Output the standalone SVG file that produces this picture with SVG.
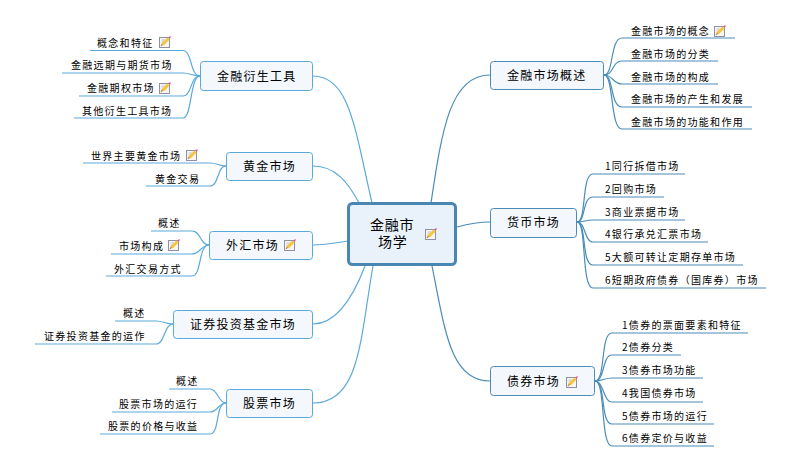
<svg xmlns="http://www.w3.org/2000/svg" width="800" height="467" viewBox="0 0 800 467">
<style>
text{font-family:"Noto Sans CJK SC","Liberation Sans",sans-serif;fill:#000}
.leaf{font-size:10px;letter-spacing:1.3px}
.lab{font-size:12px;letter-spacing:1.25px}
.ctr{font-size:14px;letter-spacing:.7px}
.l{fill:none;stroke:#5ba9dc;stroke-width:1.2}
.r{fill:none;stroke:#4a8cb8;stroke-width:1.2}
.nl{fill:#f4f8fd;stroke:#5ba9dc;stroke-width:1}
.nr{fill:#f4f8fd;stroke:#4a8cb8;stroke-width:1}
</style>
<defs>
<g id="note">
<rect x=".5" y="1.500" width="10" height="10" fill="#f7f6f0" stroke="#8f90a8"/>
<path d="M2.500 4H6M2.500 6H5M2.500 8H4" stroke="#c4c4cc" stroke-width="1" fill="none"/>
<path d="M3.500 8.500L9.500 2.500" stroke="#f5c53c" stroke-width="3" fill="none"/>
<path d="M2 10L3.500 8" stroke="#b5843a" stroke-width="1.200" fill="none"/>
<path d="M9.800 2.200L11.500 .5" stroke="#e8558e" stroke-width="1.500" fill="none"/>
</g>
</defs>
<g id="connectors">
<g class="l">
<path d="M313 76C350 76 355 130 372 203"/>
<path d="M313 166C335 166 348 182 359 203"/>
<path d="M313 245C325 245 335 243 348 241"/>
<path d="M313 324C335 324 352 300 365 266"/>
<path d="M313 403C360 403 360 340 373 266"/>
<path d="M90 50.500H183C192 50.500 190 76 200 76"/>
<path d="M62 73H183C190 73 193 76 200 76"/>
<path d="M79 96H183C192 96 190 76 200 76"/>
<path d="M74 118H183C192 118 190 76 200 76"/>
<path d="M83 163H210C216 163 220 166 226 166"/>
<path d="M146 186H210C219 186 217 166 226 166"/>
<path d="M151 231H192C201 231 200 245 209 245"/>
<path d="M111 254H192C200 254 201 245 209 245"/>
<path d="M106 276H192C202 276 198 245 209 245"/>
<path d="M115 321H156C163 321 166 324 173 324"/>
<path d="M35 344H156C165 344 164 324 173 324"/>
<path d="M169 389H210C218 389 218 403 226 403"/>
<path d="M112 412H210C218 412 218 403 226 403"/>
<path d="M100 434H210C220 434 215 403 226 403"/>
</g>
<g class="r">
<path d="M490 75C450 75 442 130 431 203"/>
<path d="M490 222C478 222 468 224 457 227"/>
<path d="M490 381C450 381 445 330 432 266"/>
<path d="M735 38H622C610 38 614 75 604 75"/>
<path d="M718 61H622C612 61 614 75 604 75"/>
<path d="M718 84H622C613 84 613 75 604 75"/>
<path d="M752 107H622C610 107 614 75 604 75"/>
<path d="M752 129H622C610 129 614 75 604 75"/>
<path d="M685 174H593C581 174 587 222 577 222"/>
<path d="M664 197H593C582 197 586 222 577 222"/>
<path d="M685 220H593C586 220 584 222 577 222"/>
<path d="M708 242H593C584 242 586 222 577 222"/>
<path d="M743 265H593C581 265 587 222 577 222"/>
<path d="M766 288H593C581 288 587 222 577 222"/>
<path d="M748 333H612C600 333 606 381 595 381"/>
<path d="M681 355H612C602 355 605 381 595 381"/>
<path d="M703 378H612C605 378 602 381 595 381"/>
<path d="M703 402H612C603 402 604 381 595 381"/>
<path d="M714 424H612C600 424 606 381 595 381"/>
<path d="M714 446H612C600 446 606 381 595 381"/>
</g>
</g>
<g id="center">
<rect x="348.500" y="203.500" width="107" height="61" rx="4" fill="#e9f1fb" stroke="#4a86b2" stroke-width="3"/>
<text class="ctr"><tspan x="370" y="230">金融市</tspan><tspan x="378" y="246.500">场学</tspan></text>
<use href="#note" x="425" y="228"/>
</g>
<g id="n-yansheng">
<rect class="nl" x="200.500" y="61.500" width="112" height="29" rx="3"/>
<text class="lab" x="217" y="81">金融衍生工具</text>
<text class="leaf" x="97" y="47">概念和特征</text><use href="#note" x="159" y="36"/>
<text class="leaf" x="71" y="69">金融远期与期货市场</text>
<text class="leaf" x="87" y="92">金融期权市场</text><use href="#note" x="159" y="82"/>
<text class="leaf" x="82" y="115">其他衍生工具市场</text>
</g>
<g id="n-huangjin">
<rect class="nl" x="226.500" y="152.500" width="86" height="28" rx="3"/>
<text class="lab" x="243" y="171">黄金市场</text>
<text class="leaf" x="91" y="160">世界主要黄金市场</text><use href="#note" x="186" y="149"/>
<text class="leaf" x="155" y="183">黄金交易</text>
</g>
<g id="n-waihui">
<rect class="nl" x="209.500" y="231.500" width="103" height="28" rx="3"/>
<text class="lab" x="226" y="250">外汇市场</text><use href="#note" x="284" y="239"/>
<text class="leaf" x="158" y="227">概述</text>
<text class="leaf" x="119" y="250">市场构成</text><use href="#note" x="168" y="239"/>
<text class="leaf" x="114" y="273">外汇交易方式</text>
</g>
<g id="n-zhengquan">
<rect class="nl" x="173.500" y="310.500" width="139" height="28" rx="3"/>
<text class="lab" x="190" y="329">证券投资基金市场</text>
<text class="leaf" x="123" y="317">概述</text>
<text class="leaf" x="44" y="340">证券投资基金的运作</text>
</g>
<g id="n-gupiao">
<rect class="nl" x="226.500" y="389.500" width="86" height="28" rx="3"/>
<text class="lab" x="243" y="408">股票市场</text>
<text class="leaf" x="176" y="385">概述</text>
<text class="leaf" x="119" y="408">股票市场的运行</text>
<text class="leaf" x="108" y="430">股票的价格与收益</text>
</g>
<g id="n-gaishu">
<rect class="nr" x="490.500" y="61.500" width="113" height="28" rx="3"/>
<text class="lab" x="507" y="80">金融市场概述</text>
<text class="leaf" x="631" y="35">金融市场的概念</text><use href="#note" x="714" y="25"/>
<text class="leaf" x="631" y="58">金融市场的分类</text>
<text class="leaf" x="631" y="81">金融市场的构成</text>
<text class="leaf" x="631" y="103">金融市场的产生和发展</text>
<text class="leaf" x="631" y="126">金融市场的功能和作用</text>
</g>
<g id="n-huobi">
<rect class="nr" x="490.500" y="208.500" width="86" height="29" rx="3"/>
<text class="lab" x="507" y="227">货币市场</text>
<text class="leaf" x="605" y="170">1同行拆借市场</text>
<text class="leaf" x="605" y="193">2回购市场</text>
<text class="leaf" x="605" y="216">3商业票据市场</text>
<text class="leaf" x="605" y="238">4银行承兑汇票市场</text>
<text class="leaf" x="605" y="261">5大额可转让定期存单市场</text>
<text class="leaf" x="605" y="284">6短期政府债券（国库券）市场</text>
</g>
<g id="n-zhaiquan">
<rect class="nr" x="490.500" y="366.500" width="104" height="29" rx="3"/>
<text class="lab" x="507" y="386">债券市场</text><use href="#note" x="566" y="376"/>
<text class="leaf" x="622" y="329">1债券的票面要素和特征</text>
<text class="leaf" x="622" y="351">2债券分类</text>
<text class="leaf" x="622" y="374">3债券市场功能</text>
<text class="leaf" x="622" y="397">4我国债券市场</text>
<text class="leaf" x="622" y="420">5债券市场的运行</text>
<text class="leaf" x="622" y="442">6债券定价与收益</text>
</g>
</svg>
